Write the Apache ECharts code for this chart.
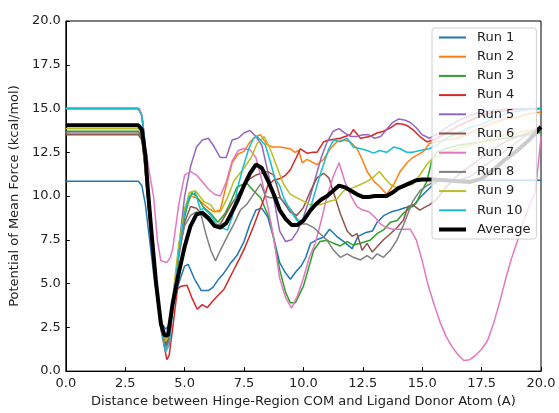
<!DOCTYPE html>
<html><head><meta charset="utf-8">
<script src="https://cdn.jsdelivr.net/npm/echarts@6/dist/echarts.min.js"></script>
<style>html,body{margin:0;padding:0;background:#fff}#c{width:559px;height:413px}</style>
</head><body><div id="c"></div>
<script>
const run1 = [[0,10.85],[3.05,10.85],[3.2,10.6],[3.35,9.5],[3.5,7.8],[3.7,5.5],[3.9,3.6],[4.05,2.7],[4.2,2.4],[4.35,2.6],[4.5,3.6],[4.75,5.0],[5.0,6.0],[5.15,6.1],[5.4,5.3],[5.7,4.6],[6.0,4.6],[6.2,4.8],[6.4,5.2],[6.6,5.5],[6.9,6.1],[7.2,6.6],[7.5,7.4],[7.75,8.4],[8.0,9.2],[8.25,9.3],[8.5,8.8],[8.75,7.6],[9.0,6.2],[9.25,5.6],[9.45,5.25],[9.7,5.7],[9.9,6.0],[10.1,6.5],[10.3,7.3],[10.55,7.5],[10.85,7.65],[11.1,8.1],[11.4,7.7],[11.7,7.4],[12.05,7.0],[12.3,7.7],[12.6,7.9],[12.9,8.0],[13.1,8.5],[13.4,8.9],[13.7,9.1],[14.0,9.2],[14.3,9.35],[14.6,9.4],[14.9,9.9],[15.2,10.3],[15.5,10.7],[15.8,10.9],[20,10.9]];
const run2 = [[0,15],[3.05,15],[3.2,14.6],[3.3,13.4],[3.45,10.8],[3.6,8.2],[3.8,5.3],[4.0,2.8],[4.2,1.6],[4.35,2.0],[4.5,4.0],[4.75,7.0],[5.0,9.3],[5.25,10.0],[5.5,9.9],[5.75,9.6],[6.0,9.3],[6.25,9.1],[6.5,9.2],[6.75,10.6],[7.0,11.9],[7.25,12.4],[7.5,12.55],[7.75,13.1],[8.0,13.4],[8.2,13.5],[8.45,12.95],[8.7,12.8],[9.0,12.8],[9.45,12.7],[9.65,12.5],[9.8,12.6],[9.95,11.9],[10.15,12.1],[10.35,11.95],[10.57,11.8],[10.85,12.1],[11.13,12.7],[11.41,13.1],[11.7,13.2],[11.97,13.1],[12.26,12.7],[12.47,12.1],[12.68,11.4],[12.96,10.85],[13.24,10.5],[13.5,10.1],[13.8,10.66],[14.07,11.4],[14.36,11.9],[14.6,12.2],[15.06,12.55],[15.3,13.0],[15.6,13.1],[16.0,13.2],[16.5,13.3],[17.0,13.6],[17.5,13.9],[18.0,14.2],[18.5,14.4],[19.0,14.5],[19.5,14.7],[20,14.8]];
const run3 = [[0,13.7],[3.05,13.7],[3.2,13.4],[3.3,12.2],[3.45,9.9],[3.6,7.5],[3.8,4.8],[4.0,2.6],[4.2,1.4],[4.35,1.8],[4.5,3.8],[4.75,6.8],[5.0,8.8],[5.15,9.6],[5.3,10.2],[5.5,10.0],[5.8,9.35],[6.1,9.0],[6.4,8.5],[6.7,9.0],[6.95,9.7],[7.2,10.5],[7.6,10.76],[7.9,10.3],[8.2,9.9],[8.6,8.6],[9.0,5.8],[9.25,4.5],[9.45,3.9],[9.66,3.9],[10.0,4.85],[10.2,5.8],[10.43,6.9],[10.7,7.4],[11.0,7.47],[11.27,7.3],[11.55,7.15],[11.84,7.4],[12.1,7.2],[12.4,7.3],[12.8,7.47],[13.1,7.85],[13.4,8.1],[13.66,8.5],[13.94,8.6],[14.2,9.0],[14.5,9.35],[14.75,9.6],[14.95,10.2],[15.2,10.85],[15.4,12.0],[15.6,12.5],[16.0,12.7],[16.5,12.9],[17.0,13.0],[17.5,13.1],[18.0,13.2],[18.5,13.3],[19.0,13.4],[19.5,13.5],[20,13.65]];
const run4 = [[0,15],[3.05,15],[3.2,14.6],[3.3,13.4],[3.45,10.8],[3.6,8.2],[3.8,5.2],[4.0,2.4],[4.25,0.65],[4.35,0.9],[4.5,2.5],[4.7,4.7],[4.85,4.85],[5.1,4.9],[5.3,4.2],[5.53,3.53],[5.74,3.8],[5.95,3.62],[6.15,3.95],[6.37,4.28],[6.65,4.66],[6.85,5.2],[7.07,5.79],[7.3,6.4],[7.5,6.95],[7.7,7.6],[7.91,8.3],[8.1,9.0],[8.33,9.8],[8.5,10.6],[8.75,10.9],[9.03,11.0],[9.25,11.2],[9.45,11.5],[9.7,12.2],[9.87,12.7],[10.15,12.45],[10.4,12.5],[10.57,12.5],[10.85,13.1],[11.1,13.2],[11.55,13.3],[11.97,13.5],[12.1,13.8],[12.4,13.3],[12.8,13.4],[13.1,13.6],[13.37,13.7],[13.66,13.9],[13.94,14.15],[14.2,14.1],[14.4,14.0],[14.6,13.8],[14.9,13.4],[15.2,13.1],[15.5,13.2],[16.0,13.6],[16.5,14.0],[17.0,14.3],[17.5,14.6],[18.0,14.8],[19.0,14.95],[20,15.0]];
const run5 = [[0,15],[3.05,15],[3.2,14.6],[3.3,13.4],[3.45,10.8],[3.6,8.2],[3.8,5.3],[4.0,2.7],[4.2,1.3],[4.35,1.7],[4.5,3.6],[4.75,7.0],[5.0,10.0],[5.25,11.7],[5.5,12.8],[5.75,13.2],[6.0,13.3],[6.25,12.8],[6.5,12.2],[6.75,12.2],[7.0,13.2],[7.25,13.3],[7.5,13.6],[7.75,13.75],[8.0,13.4],[8.25,12.9],[8.5,11.4],[8.75,9.9],[9.0,8.0],[9.25,7.4],[9.5,7.5],[9.75,8.0],[10.0,8.8],[10.25,9.8],[10.5,11.0],[10.75,12.2],[11.0,13.1],[11.25,13.7],[11.5,13.85],[11.75,13.6],[12.0,13.4],[12.25,13.4],[12.5,13.5],[12.75,13.5],[13.0,13.3],[13.25,13.4],[13.5,13.8],[13.75,14.2],[14.0,14.4],[14.25,14.35],[14.5,14.2],[14.75,13.9],[15.0,13.5],[15.3,13.3],[15.6,13.5],[16.0,13.9],[16.5,14.3],[17.0,14.6],[17.5,14.8],[18.0,14.9],[19.0,15.0],[20,15.0]];
const run6 = [[0,13.5],[3.05,13.5],[3.2,13.2],[3.3,12.0],[3.45,9.7],[3.6,7.4],[3.8,4.7],[4.0,2.6],[4.2,1.5],[4.35,1.9],[4.5,3.8],[4.75,6.5],[5.0,8.5],[5.25,9.4],[5.5,9.3],[5.75,8.9],[6.0,8.6],[6.25,8.3],[6.5,8.4],[6.75,9.0],[7.0,9.6],[7.25,10.1],[7.5,10.6],[7.75,11.0],[8.0,11.2],[8.25,11.3],[8.5,11.4],[8.75,11.2],[9.03,9.9],[9.24,9.5],[9.45,9.07],[9.73,8.9],[10.0,9.35],[10.3,10.3],[10.57,11.04],[10.85,11.3],[11.07,11.04],[11.34,9.9],[11.55,9.0],[11.84,8.0],[12.05,7.7],[12.26,7.85],[12.47,6.9],[12.68,7.3],[12.9,6.8],[13.1,7.1],[13.37,7.5],[13.66,7.85],[13.94,8.2],[14.2,8.6],[14.4,9.4],[14.6,9.5],[14.9,9.2],[15.1,9.35],[15.3,9.5],[15.6,9.8],[16.0,10.5],[16.5,11.2],[17.0,11.7],[17.5,12.2],[18.0,12.7],[18.5,13.1],[19.0,13.4],[19.5,13.6],[20,13.8]];
const run7 = [[0,15],[3.1,15],[3.2,14.5],[3.3,13.3],[3.5,11.5],[3.7,9.9],[3.85,7.5],[4.0,6.3],[4.25,6.2],[4.4,6.5],[4.5,7.0],[4.75,9.5],[5.0,11.2],[5.25,11.4],[5.5,11.2],[5.75,10.8],[6.0,10.4],[6.25,10.1],[6.5,10.0],[6.75,10.8],[7.0,12.0],[7.25,12.6],[7.5,12.7],[7.75,12.65],[8.0,12.2],[8.25,10.9],[8.5,9.4],[8.75,7.6],[9.0,5.3],[9.25,4.2],[9.5,3.6],[9.75,4.3],[10.0,5.3],[10.25,6.5],[10.5,7.3],[10.75,8.6],[11.0,10.0],[11.25,11.1],[11.5,11.9],[11.75,10.8],[12.0,10.0],[12.25,9.4],[12.5,9.2],[12.75,9.1],[13.0,8.8],[13.25,8.4],[13.5,8.2],[13.75,8.1],[14.0,8.1],[14.5,8.1],[14.75,7.5],[15.0,6.3],[15.25,4.9],[15.5,3.8],[15.75,2.8],[16.0,2.0],[16.25,1.4],[16.5,0.95],[16.75,0.6],[17.0,0.65],[17.25,0.9],[17.5,1.25],[17.75,1.75],[18.0,2.7],[18.25,3.9],[18.5,5.2],[18.75,6.4],[19.0,7.4],[19.25,8.5],[19.5,9.4],[19.75,10.2],[19.9,12.0],[20,13.4]];
const run8 = [[0,13.6],[3.05,13.6],[3.2,13.3],[3.3,12.1],[3.45,9.8],[3.6,7.5],[3.8,4.8],[4.0,2.8],[4.2,1.8],[4.35,2.2],[4.5,4.0],[4.75,6.8],[5.0,8.3],[5.25,8.9],[5.5,9.1],[5.7,8.9],[5.9,7.8],[6.1,6.9],[6.3,6.3],[6.5,6.9],[6.8,7.7],[7.07,8.4],[7.35,9.2],[7.6,9.5],[7.8,9.9],[8.0,10.3],[8.2,10.7],[8.4,10.0],[8.6,9.9],[9.0,9.9],[9.3,9.5],[9.6,9.0],[9.87,8.4],[10.15,8.4],[10.43,8.2],[10.7,7.85],[11.0,7.47],[11.27,6.9],[11.55,6.5],[11.84,6.7],[12.1,6.5],[12.4,6.35],[12.68,6.6],[12.9,6.4],[13.1,6.7],[13.37,6.5],[13.66,6.9],[13.94,7.5],[14.2,8.3],[14.4,9.0],[14.6,9.7],[14.9,10.3],[15.2,10.6],[15.5,10.8],[16.0,10.9],[16.5,10.9],[17.0,11.1],[17.5,11.6],[18.0,12.1],[18.5,12.6],[19.0,13.1],[19.5,13.6],[20,14.0]];
const run9 = [[0,13.85],[3.05,13.85],[3.2,13.5],[3.3,12.3],[3.45,10.0],[3.6,7.6],[3.8,4.9],[4.0,2.9],[4.2,1.7],[4.35,2.1],[4.5,4.2],[4.75,7.2],[5.0,9.2],[5.2,10.2],[5.45,10.3],[5.8,9.7],[6.1,9.5],[6.3,9.1],[6.5,9.1],[6.8,9.9],[7.07,10.85],[7.5,11.6],[7.8,12.2],[8.05,13.0],[8.35,13.4],[8.6,12.7],[8.9,11.6],[9.17,10.66],[9.45,10.1],[9.87,9.8],[10.3,9.5],[10.7,9.5],[11.1,9.7],[11.4,9.8],[11.7,10.3],[12.1,10.48],[12.4,10.66],[12.7,10.85],[12.96,11.1],[13.2,11.4],[13.37,11.1],[13.66,10.66],[13.94,10.48],[14.2,10.57],[14.6,10.66],[14.9,11.2],[15.2,11.8],[15.4,12.1],[15.7,12.3],[16.0,12.5],[16.5,12.7],[17.0,12.9],[17.5,13.1],[18.0,13.3],[18.5,13.5],[19.0,13.6],[19.5,13.75],[20,13.9]];
const run10 = [[0,15],[3.05,15],[3.2,14.6],[3.3,13.4],[3.45,10.8],[3.6,8.2],[3.8,5.2],[4.0,2.5],[4.2,1.1],[4.35,1.5],[4.5,3.5],[4.75,6.8],[5.0,9.0],[5.2,10.0],[5.45,10.2],[5.67,9.2],[5.8,9.3],[6.1,8.9],[6.4,8.3],[6.8,8.05],[7.0,8.8],[7.2,10.3],[7.45,11.6],[7.7,12.7],[7.9,13.3],[8.05,13.4],[8.4,12.9],[8.6,12.0],[8.8,11.0],[9.0,10.6],[9.17,9.9],[9.45,9.17],[9.73,8.6],[10.0,8.6],[10.3,9.35],[10.7,11.2],[11.07,12.7],[11.27,13.2],[11.55,13.1],[11.84,13.3],[12.1,12.8],[12.4,12.7],[12.68,12.6],[12.96,12.45],[13.2,12.6],[13.5,12.5],[13.8,12.8],[14.07,12.7],[14.35,12.5],[14.6,12.5],[14.9,12.6],[15.3,12.7],[15.6,12.9],[16.0,13.3],[16.5,13.6],[17.0,13.9],[17.5,14.1],[18.0,14.4],[18.5,14.7],[19.0,14.85],[19.5,14.95],[20,15.0]];
const average = [[0,14.05],[3.05,14.05],[3.2,13.8],[3.35,12.3],[3.45,10.4],[3.6,8.0],[3.8,5.0],[4.0,2.7],[4.15,2.05],[4.3,2.05],[4.5,3.9],[4.75,5.6],[5.0,7.1],[5.25,8.3],[5.5,8.95],[5.75,9.05],[6.0,8.75],[6.25,8.3],[6.5,8.2],[6.75,8.45],[7.0,9.1],[7.25,9.8],[7.5,10.6],[7.75,11.3],[8.0,11.8],[8.25,11.6],[8.5,10.9],[8.75,10.1],[9.0,9.2],[9.25,8.7],[9.5,8.35],[9.75,8.35],[10.0,8.6],[10.25,9.1],[10.5,9.5],[10.75,9.8],[11.0,10.0],[11.25,10.3],[11.5,10.6],[11.75,10.5],[12.0,10.3],[12.25,10.1],[12.5,9.95],[12.75,9.95],[13.0,10.0],[13.25,10.0],[13.5,10.0],[13.75,10.2],[14.0,10.45],[14.25,10.6],[14.5,10.75],[14.75,10.9],[15.0,10.95],[15.5,10.95],[16.0,10.9],[16.5,10.85],[17.0,10.8],[17.5,11.0],[18.0,11.5],[18.5,12.1],[19.0,12.6],[19.5,13.2],[20,13.95]];

const seriesNames = ['Run 1','Run 2','Run 3','Run 4','Run 5','Run 6','Run 7','Run 8','Run 9','Run 10','Average'];
const seriesData = [run1,run2,run3,run4,run5,run6,run7,run8,run9,run10,average];
const colors = ['#1f77b4','#ff7f0e','#2ca02c','#d62728','#9467bd','#8c564b','#e377c2','#7f7f7f','#bcbd22','#17becf','#000000'];
const xTitle = 'Distance between Hinge-Region COM and Ligand Donor Atom (A)';
const yTitle = 'Potential of Mean Force (kcal/mol)';

const FONT = 'DejaVu Sans';
const chart = echarts.init(document.getElementById('c'), null, {renderer:'canvas'});
chart.setOption({
  animation: false,
  color: colors,
  grid: {left:65, right:18, top:21, bottom:37, show:true, borderColor:'#000', borderWidth:1, backgroundColor:'transparent'},
  legend: {
    show: true,
    orient:'vertical', left:432, top:28, z:10,
    padding:[3,6,3,5], itemGap:6.2, itemWidth:27, itemHeight:14,
    backgroundColor:'rgba(255,255,255,0.8)', borderColor:'#d0d0d0', borderWidth:1, borderRadius:3,
    itemStyle:{opacity:0, borderWidth:0},
    textStyle:{fontFamily:FONT, fontSize:13, color:'#222', padding:[0,0,0,6]},
    data: seriesNames.map((n,i) => i === 10 ? {name:n, lineStyle:{width:4}} : n)
  },
  xAxis: {
    type:'value', min:0, max:20, interval:2.5,
    name:xTitle, nameLocation:'middle', nameGap:23,
    nameTextStyle:{fontFamily:FONT, fontSize:13, color:'#222'},
    axisLine:{show:true, onZero:false, lineStyle:{color:'#000', width:1}},
    axisTick:{show:true, inside:true, length:4, lineStyle:{color:'#000'}},
    axisLabel:{fontFamily:FONT, fontSize:13, color:'#222', margin:6, formatter:v=>v.toFixed(1)},
    splitLine:{show:false}
  },
  yAxis: {
    type:'value', min:0, max:20, interval:2.5,
    name:yTitle, nameLocation:'middle', nameGap:38, nameRotate:90,
    nameTextStyle:{fontFamily:FONT, fontSize:13, color:'#222'},
    axisLine:{show:true, onZero:false, lineStyle:{color:'#000', width:1}},
    axisTick:{show:true, inside:true, length:4, lineStyle:{color:'#000'}},
    axisLabel:{fontFamily:FONT, fontSize:13, color:'#222', margin:5, formatter:v=>v.toFixed(1)},
    splitLine:{show:false}
  },
  series: seriesData.map((d,i) => ({
    name: seriesNames[i], type:'line', data:d, symbol:'none', showSymbol:false,
    lineStyle:{width: i===10 ? 4 : 1.5, color: colors[i]},
    itemStyle:{color: colors[i]},
    z: i===10 ? 3 : 2
  }))
});
</script></body></html>
